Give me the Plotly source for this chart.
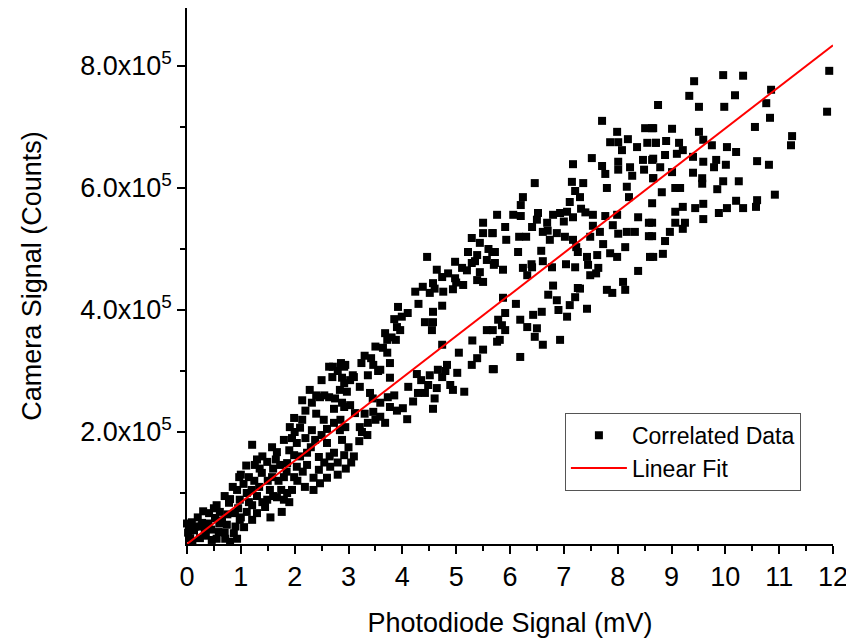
import plotly.graph_objects as go

# photodiode signal (mV) and camera signal (units of 1e5 counts)
photodiode_mv = [
    # x < 3
    2.64, 2.86, 2.92, 2.28, 2.47, 2.64, 2.84, 2.92, 2.14, 2.32, 2.73, 2.92, 1.99, 2.14, 2.54, 2.73,
    1.91, 2.10, 2.32, 2.84, 1.21, 1.80, 2.04, 2.38, 2.60, 2.88, 1.58, 1.67, 1.99, 2.23, 2.45, 2.73,
    2.92, 1.26, 1.49, 1.73, 1.86, 2.04, 2.23, 2.45, 2.66, 0.97, 1.15, 1.39, 1.58, 1.80, 1.99, 2.19,
    2.47, 0.93, 1.11, 1.34, 1.54, 1.67, 1.86, 1.80, 1.49, 1.76, 0.78, 0.98, 1.21, 1.45, 0.61, 0.41,
    0.89, 1.11, 1.30, 0.98, 1.21, 0.09, 0.28, 0.52, 0.74, 1.06, 0.13, 0.33, 0.59, 0.87, 0.06, 0.24,
    0.46, 0.71, 0.93, 0.80,
    0.15, 0.40, 0.65, 0.55, 0.70, 0.85, 1.00, 1.25, 1.40, 1.60, 1.70, 1.90, 2.00, 2.20, 2.40, 2.55,
    2.70, 2.60, 2.80, 1.30, 1.55, 1.00, 0.35, 0.05, 2.35, 2.55, 1.95, 2.15,
    3.00, 3.10, 3.20, 3.35, 3.05, 3.25,
    0.02, 0.10, 0.20, 0.30, 0.45, 0.50, 0.60, 0.75, 0.80, 0.90, 0.95, 0.00, 0.25, 0.70, 0.55,
    1.05, 1.15, 1.20, 1.35, 1.40, 1.50, 1.60, 1.65, 1.75, 1.85, 1.90, 1.95, 1.10, 1.30,
    2.05, 2.10, 2.30, 2.35, 2.50, 2.60, 2.65, 2.75, 2.80, 2.85, 2.95, 2.20, 2.40, 2.50, 2.80,
    # 3 < x < 6
    5.50, 5.50, 5.67, 5.29, 5.44, 5.22, 5.67, 4.46, 5.39, 5.57, 4.98, 5.29, 5.70, 4.64, 5.11, 5.44,
    4.74, 4.98, 5.39, 5.50, 4.57, 4.38, 4.24, 4.51, 4.76, 4.94, 5.13, 4.74, 3.92, 4.57, 3.99, 4.42,
    4.57, 3.90, 3.96, 3.68, 4.55, 3.72, 3.88, 3.64, 5.57, 5.76, 4.74, 3.72, 3.42, 3.24, 3.46, 2.94,
    3.77, 3.59, 3.36, 3.08, 5.39, 5.29, 5.68, 4.83, 4.66, 5.02, 4.74, 4.51, 4.27, 3.77, 3.03, 2.88,
    4.48, 4.89, 4.64, 4.11, 4.29, 4.42, 4.94, 5.15, 3.40, 3.21, 2.97, 2.88, 3.73, 3.59, 3.77, 4.01,
    4.57, 3.03, 3.12, 3.46, 3.59, 4.09, 3.36, 3.68, 3.21, 2.94, 2.71,
    3.10, 3.30, 3.50, 3.55, 3.80, 3.85, 3.30, 3.50, 3.90, 3.85, 3.45,
    4.10, 4.30, 4.60, 4.85, 5.00, 4.20, 4.60, 4.80, 4.35,
    5.20, 5.35, 5.60, 5.05, 5.30, 5.50, 5.85,
    # 5.6 < x < 8.8
    7.71, 7.99, 8.51, 8.64, 7.86, 8.01, 8.19, 8.36, 8.55, 8.71, 8.08, 7.52, 7.71, 7.77, 8.01, 8.01,
    8.23, 8.27, 8.47, 8.64, 8.49, 8.66, 7.17, 6.46, 7.15, 7.36, 7.21, 7.80, 8.17, 8.21, 7.30, 7.11,
    6.24, 6.20, 5.76, 6.06, 6.20, 6.52, 6.50, 6.80, 6.93, 7.06, 7.32, 7.17, 6.69, 6.41, 6.61, 5.91,
    5.68, 5.93, 6.17, 6.87, 7.02, 6.74, 7.54, 7.77, 7.99, 7.54, 7.67, 7.91, 8.01, 8.17, 8.32, 8.38,
    8.58, 8.58, 7.49, 7.17, 6.15, 5.72, 5.72, 6.58, 7.23, 7.26, 7.73, 7.86, 8.14, 7.99, 7.62, 7.43,
    8.60, 6.61, 7.04, 6.78, 7.21, 7.45, 7.64, 6.24, 6.41, 5.87, 7.49, 8.38, 6.32, 8.10, 8.14, 7.26,
    7.80, 7.90, 7.21, 6.71, 6.87, 7.11, 7.06, 7.43, 5.87, 6.11, 6.43, 6.59, 5.91, 5.78, 6.19, 6.32,
    6.50, 5.91, 5.68, 5.81, 6.46, 6.61, 6.93, 6.19, 5.70,
    6.30, 6.70, 7.00, 7.40, 6.90, 7.30, 7.60, 6.40, 6.80,
    # x > 8.6
    11.93, 11.89, 11.24, 11.22, 10.85, 10.76, 10.83, 10.55, 10.59, 10.81, 10.92, 10.59, 10.57, 10.33,
    10.20, 10.03, 9.88, 10.25, 10.20, 10.03, 10.01, 9.96, 9.85, 9.83, 9.79, 9.96, 10.33, 10.18, 9.98,
    9.42, 9.33, 9.51, 8.75, 9.01, 8.66, 9.51, 9.59, 9.75, 9.14, 8.90, 8.71, 9.21, 9.10, 8.88, 9.40,
    9.59, 8.79, 8.66, 9.01, 9.40, 9.57, 9.57, 8.66, 8.82, 9.07, 9.16, 8.64, 9.21, 9.07, 9.44, 9.59,
    9.59, 9.25, 9.07, 9.21, 8.97, 8.64, 8.64, 8.88, 8.84, 8.66,
]
camera_e5 = [
    3.07, 3.13, 3.07, 2.69, 2.57, 2.57, 2.69, 2.80, 2.52, 2.48, 2.38, 2.41, 2.23, 2.20, 2.20, 2.15,
    2.08, 2.07, 2.03, 2.03, 1.79, 1.87, 1.82, 1.87, 1.82, 1.87, 1.75, 1.67, 1.62, 1.66, 1.59, 1.66,
    1.62, 1.46, 1.51, 1.46, 1.49, 1.43, 1.46, 1.38, 1.43, 1.26, 1.26, 1.33, 1.26, 1.26, 1.26, 1.10,
    1.16, 1.05, 1.00, 1.10, 1.05, 0.93, 1.00, 0.89, 0.89, 0.69, 0.84, 0.89, 0.80, 0.77, 0.69, 0.67,
    0.67, 0.69, 0.67, 0.56, 0.56, 0.52, 0.51, 0.59, 0.48, 0.44, 0.39, 0.39, 0.36, 0.34, 0.26, 0.26,
    0.23, 0.25, 0.25, 0.20,
    0.45, 0.50, 0.55, 0.80, 0.95, 1.10, 1.30, 1.20, 1.60, 1.40, 1.20, 1.70, 2.00, 1.90, 2.30, 2.60,
    2.90, 1.25, 1.50, 0.95, 0.60, 0.60, 0.30, 0.45, 1.25, 1.50, 1.05, 1.35,
    1.75, 1.60, 1.85, 1.95, 1.50, 2.00,
    0.35, 0.20, 0.60, 0.70, 0.40, 0.75, 0.50, 0.65, 0.90, 0.45, 0.75, 0.50, 0.45, 0.35, 0.25,
    1.15, 0.85, 1.05, 1.40, 0.85, 1.20, 0.95, 1.55, 1.05, 1.35, 0.85, 1.90, 1.45, 1.55,
    1.20, 1.60, 1.75, 1.05, 1.95, 2.05, 1.60, 2.55, 1.30, 2.20, 1.40, 2.35, 2.60, 2.85, 3.00,
    5.43, 5.26, 5.26, 5.18, 5.10, 4.95, 4.95, 4.87, 4.90, 4.82, 4.79, 4.77, 4.74, 4.66, 4.69, 4.62,
    4.54, 4.52, 4.49, 4.46, 4.44, 4.38, 4.30, 4.28, 4.30, 4.34, 4.41, 4.07, 4.05, 3.97, 3.89, 3.80,
    3.80, 3.72, 3.67, 3.62, 3.67, 3.51, 3.51, 3.38, 3.67, 3.48, 3.43, 3.30, 3.21, 3.13, 3.10, 3.10,
    3.13, 3.02, 2.93, 2.93, 3.21, 3.10, 3.03, 3.10, 3.02, 2.97, 2.90, 2.93, 2.95, 2.89, 2.85, 2.89,
    2.77, 2.77, 2.72, 2.74, 2.64, 2.64, 2.69, 2.66, 2.64, 2.74, 2.66, 2.48, 2.57, 2.48, 2.41, 2.39,
    2.38, 2.44, 2.31, 2.33, 2.25, 2.21, 2.15, 2.15, 2.08, 2.08, 3.07,
    2.90, 3.25, 3.40, 3.00, 3.55, 3.85, 2.30, 2.20, 2.35, 2.60, 2.55,
    3.95, 4.10, 4.35, 4.60, 4.45, 2.50, 2.55, 3.00, 2.85,
    4.65, 4.80, 5.00, 3.30, 3.50, 3.35, 3.75,
    7.10, 6.92, 6.98, 6.98, 6.75, 6.75, 6.80, 6.67, 6.74, 6.74, 6.62, 6.49, 6.36, 6.23, 6.43, 6.30,
    6.34, 6.20, 6.46, 6.46, 6.30, 6.16, 6.39, 6.08, 6.10, 6.08, 5.95, 6.00, 6.02, 5.85, 5.85, 5.77,
    5.85, 5.72, 5.56, 5.56, 5.54, 5.59, 5.48, 5.56, 5.59, 5.61, 5.66, 5.52, 5.43, 5.36, 5.28, 5.36,
    5.26, 5.15, 5.20, 5.26, 5.20, 5.15, 5.56, 5.54, 5.56, 5.38, 5.28, 5.39, 5.25, 5.28, 5.28, 5.52,
    5.43, 5.21, 5.20, 5.15, 4.95, 4.95, 4.77, 4.97, 5.03, 4.95, 5.08, 4.93, 5.03, 4.87, 4.90, 4.87,
    4.87, 4.80, 4.75, 4.70, 4.70, 4.74, 4.69, 4.69, 4.70, 4.66, 4.57, 4.64, 4.57, 4.46, 4.33, 4.36,
    4.33, 4.28, 4.21, 4.25, 4.16, 4.08, 3.89, 4.02, 4.20, 4.10, 3.92, 3.97, 3.95, 3.84, 3.84, 3.72,
    3.70, 3.67, 3.67, 3.51, 3.56, 3.43, 3.51, 3.23, 3.03,
    5.20, 5.30, 5.45, 5.60, 4.00, 4.35, 4.60, 4.75, 4.40,
    7.92, 7.25, 6.85, 6.70, 7.61, 7.39, 7.15, 7.00, 6.44, 6.38, 5.89, 5.80, 5.69, 5.67,
    5.79, 5.67, 5.59, 6.11, 6.59, 6.67, 6.38, 6.11, 5.98, 6.46, 6.34, 7.85, 7.84, 7.52, 7.33,
    7.75, 7.51, 7.33, 7.36, 6.97, 6.98, 6.92, 6.79, 6.70, 6.74, 6.77, 6.74, 6.62, 6.56, 6.54, 6.51,
    6.43, 6.34, 6.48, 6.26, 6.25, 6.16, 6.07, 6.16, 5.93, 6.00, 6.00, 5.75, 5.69, 5.61, 5.67, 5.74,
    5.49, 5.43, 5.43, 5.33, 5.28, 5.43, 5.21, 5.13, 4.92, 4.87,
]

# linear fit end points
fit_x = [0, 12]
fit_y = [16400, 834000]

camera_counts = [v * 1e5 for v in camera_e5]

font_name = "Liberation Sans, Arial, sans-serif"

fig = go.Figure()

fig.add_trace(go.Scatter(
    x=photodiode_mv, y=camera_counts, mode="markers", name="Correlated Data",
    marker=dict(symbol="square", size=8, color="black"),
    cliponaxis=False,
))

fig.add_trace(go.Scatter(
    x=fit_x, y=fit_y, mode="lines", name="Linear Fit",
    line=dict(color="red", width=2),
))

ytick_vals = [2e5, 4e5, 6e5, 8e5]
ytick_text = ["2.0x10<sup>5</sup>", "4.0x10<sup>5</sup>", "6.0x10<sup>5</sup>", "8.0x10<sup>5</sup>"]

fig.update_xaxes(
    range=[0, 12], dtick=1, tick0=0,
    showline=True, linecolor="black", linewidth=1.5, mirror=False,
    ticks="outside", ticklen=8, tickwidth=1.5, tickcolor="black",
    minor=dict(dtick=0.5, ticks="outside", ticklen=5, tickcolor="black", tickwidth=1.5),
    showgrid=False, zeroline=False, automargin=False,
    tickfont=dict(size=27, color="black"),
    title=dict(text="Photodiode Signal (mV)", font=dict(size=27, color="black"), standoff=22),
)
fig.update_yaxes(
    range=[16400, 895000], tickvals=ytick_vals, ticktext=ytick_text,
    showline=True, linecolor="black", linewidth=1.5, mirror=False,
    ticks="outside", ticklen=8, tickwidth=1.5, tickcolor="black",
    minor=dict(tickvals=[1e5, 3e5, 5e5, 7e5], ticks="outside", ticklen=5, tickcolor="black", tickwidth=1.5),
    showgrid=False, zeroline=False, automargin=False,
    tickfont=dict(size=27, color="black"),
    title=dict(text="Camera Signal (Counts)", font=dict(size=27, color="black"), standoff=31),
)

fig.update_layout(
    width=854, height=641,
    margin=dict(l=179, r=29, t=0, b=105),
    paper_bgcolor="white", plot_bgcolor="white",
    font=dict(family=font_name, color="black"),
    legend=dict(
        x=0.585, y=0.245, xanchor="left", yanchor="top",
        bordercolor="#555555", borderwidth=1, bgcolor="white",
        font=dict(size=23, color="black"), itemwidth=56,
        tracegroupgap=0,
    ),
)

fig.write_html("out.html")
